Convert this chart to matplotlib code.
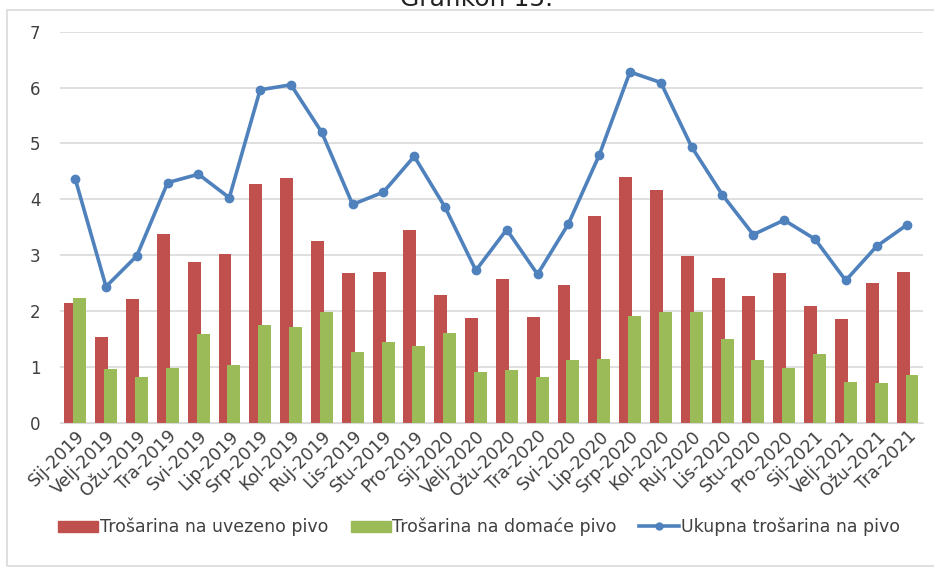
import matplotlib
matplotlib.use("Agg")
import matplotlib.pyplot as plt
from matplotlib.patches import Rectangle
from matplotlib.lines import Line2D
import numpy as np

# --------------------
# Data
# --------------------
months = [
    "Sij-2019", "Velj-2019", "Ožu-2019", "Tra-2019", "Svi-2019", "Lip-2019", "Srp-2019",
    "Kol-2019", "Ruj-2019", "Lis-2019", "Stu-2019", "Pro-2019", "Sij-2020", "Velj-2020",
    "Ožu-2020", "Tra-2020", "Svi-2020", "Lip-2020", "Srp-2020", "Kol-2020", "Ruj-2020",
    "Lis-2020", "Stu-2020", "Pro-2020", "Sij-2021", "Velj-2021", "Ožu-2021", "Tra-2021",
]
uvezeno = [2.15, 1.53, 2.21, 3.38, 2.88, 3.03, 4.27, 4.39, 3.26, 2.69, 2.71, 3.46, 2.29, 1.87,
           2.57, 1.90, 2.47, 3.71, 4.40, 4.16, 2.98, 2.59, 2.28, 2.68, 2.10, 1.86, 2.51, 2.71]
domace = [2.24, 0.97, 0.82, 0.98, 1.59, 1.04, 1.75, 1.72, 1.98, 1.27, 1.45, 1.37, 1.61, 0.91,
          0.94, 0.82, 1.12, 1.15, 1.92, 1.98, 1.99, 1.51, 1.12, 0.98, 1.24, 0.73, 0.71, 0.85]
ukupno = [4.37, 2.44, 2.99, 4.30, 4.45, 4.03, 5.96, 6.05, 5.20, 3.91, 4.13, 4.77, 3.86, 2.73,
          3.46, 2.66, 3.56, 4.79, 6.28, 6.09, 4.94, 4.08, 3.37, 3.63, 3.29, 2.55, 3.16, 3.55]
yticks = [0, 1, 2, 3, 4, 5, 6, 7]

RED = "#C0504D"
GREEN = "#9BBB59"
BLUE = "#4F81BD"

fig = plt.figure(figsize=(9.34, 5.69), dpi=100)
ax = fig.add_axes([0.064, 0.2566, 0.924, 0.6877])

x = np.arange(len(months))
ax.bar(x - 0.14, uvezeno, width=0.42, color=RED, zorder=2)
ax.bar(x + 0.15, domace, width=0.42, color=GREEN, zorder=3)
ax.plot(x, ukupno, color=BLUE, lw=2.6, marker="o", ms=6, zorder=4)

ax.set_xlim(-0.5, len(months) - 0.5)
ax.set_ylim(0, 7)
ax.set_yticks(yticks)
ax.set_yticklabels([str(v) for v in yticks], fontsize=12, color="#404040")
ax.set_xticks(x)
ax.set_xticklabels(months, rotation=45, ha="right", rotation_mode="anchor",
                   fontsize=12.5, color="#404040")
ax.tick_params(axis="both", length=0)
ax.tick_params(axis="y", pad=14)
ax.tick_params(axis="x", pad=3)
ax.grid(axis="y", color="#D9D9D9", lw=1.2, zorder=0)
ax.set_axisbelow(True)
for s in ["top", "right", "left"]:
    ax.spines[s].set_visible(False)
ax.spines["bottom"].set_color("#D9D9D9")

# legenda
handles = [
    Rectangle((0, 0), 1, 1, color=RED),
    Rectangle((0, 0), 1, 1, color=GREEN),
    Line2D([], [], color=BLUE, lw=2.6, marker="o", ms=5),
]
labels = ["Trošarina na uvezeno pivo", "Trošarina na domaće pivo", "Ukupna trošarina na pivo"]
fig.legend(handles, labels, loc="center", bbox_to_anchor=(0.513, 0.074), ncol=3,
           frameon=False, fontsize=12.5, handlelength=2.3, handleheight=0.6,
           handletextpad=0.1, columnspacing=1.3, labelcolor="#404040")

# okvir i naslov (odrezan na vrhu)
fig.patches.append(Rectangle((7 / 934, 3 / 569), 1.0, 1 - 13 / 569, transform=fig.transFigure,
                             fill=False, edgecolor="#D9D9D9", lw=1.2))
fig.text(0.51, 1 - 6 / 569, "Grafikon 15.", ha="center", va="baseline", fontsize=18, color="#222222")

fig.savefig("out.png", dpi=100)
